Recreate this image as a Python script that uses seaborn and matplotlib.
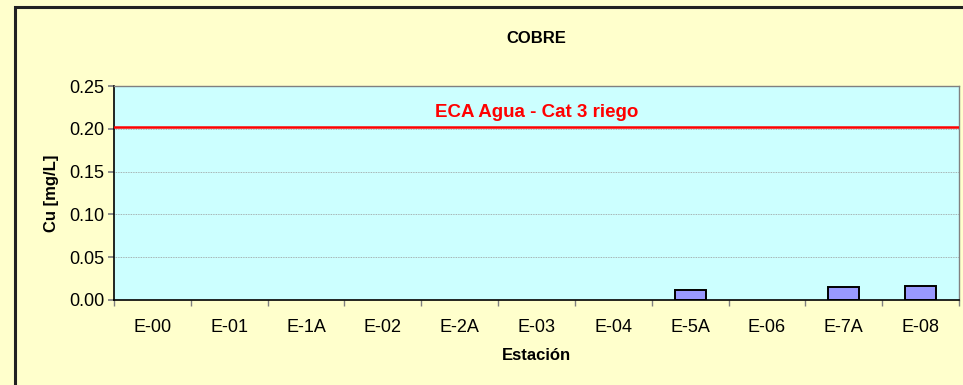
import matplotlib
matplotlib.use("Agg")
import matplotlib.pyplot as plt
import seaborn as sns
import pandas as pd
import numpy as np
from matplotlib.patches import Rectangle

estaciones = ["E-00", "E-01", "E-1A", "E-02", "E-2A", "E-03", "E-04", "E-5A", "E-06", "E-7A", "E-08"]
cobre = [0, 0, 0, 0, 0, 0, 0, 0.012, 0, 0.015, 0.016]
eca_limite = 0.202
eca_texto = "ECA Agua - Cat 3 riego"
yticks = [0.00, 0.05, 0.10, 0.15, 0.20, 0.25]

sns.set_theme(style="white")
plt.rcParams['font.family'] = ['Liberation Sans', 'DejaVu Sans']
plt.rcParams['text.color'] = 'black'
plt.rcParams['axes.labelcolor'] = 'black'
plt.rcParams['xtick.labelcolor'] = 'black'
plt.rcParams['ytick.labelcolor'] = 'black'

df = pd.DataFrame({"Estación": estaciones, "Cu": cobre})

fig = plt.figure(figsize=(9.63, 3.85), dpi=100)
fig.patch.set_facecolor("#FFFFCC")
ax = fig.add_axes([114/963, 85/385, (959-114)/963, (300-86)/385])
ax.set_facecolor("#CCFFFF")

sns.barplot(data=df, x="Estación", y="Cu", ax=ax, color="#9999FF",
            edgecolor="black", linewidth=1.4, width=0.4, saturation=1)
for p in ax.patches:
    if p.get_height() == 0:
        p.set_visible(False)

ax.set_ylim(0, 0.25)
ax.set_xlim(-0.5, len(estaciones) - 0.5)
ax.set_yticks(yticks)
ax.set_yticklabels([f"{v:.2f}" for v in yticks], fontsize=13)
ax.tick_params(axis="y", length=4, color="gray", labelcolor="black", direction="out", pad=3, left=True)
ax.tick_params(axis="x", length=0, pad=14, labelsize=13, labelcolor="black")
ax.set_xticks(np.arange(-0.5, len(estaciones)), minor=True)
ax.tick_params(axis="x", which="minor", length=4, color="gray", bottom=True, direction="out")

for v in yticks[1:]:
    ax.axhline(v, color="#999999", linestyle=(0, (1, 1)), linewidth=0.6, zorder=0.5)

ax.axhline(eca_limite, color="red", linewidth=1.8, zorder=3)
ax.text((len(estaciones) - 1) / 2, 0.2185, eca_texto, color="red", fontsize=13.5,
        fontweight="bold", ha="center", va="center")

for s in ["left", "bottom"]:
    ax.spines[s].set_color("black")
    ax.spines[s].set_linewidth(1.2)
for s in ["top", "right"]:
    ax.spines[s].set_color("gray")
    ax.spines[s].set_linewidth(1.0)

ax.set_xlabel("Estación", fontsize=12, fontweight="bold", labelpad=8, color="black")
ax.set_ylabel("Cu [mg/L]", fontsize=12, fontweight="bold", color="black")
ax.yaxis.set_label_coords(-0.065, 0.5)
ax.set_title("COBRE", fontsize=12, fontweight="bold", pad=31, color="black")

fig.patches.append(Rectangle((15/963, -0.05), 1.0, 1 - 7/385 + 0.05, transform=fig.transFigure,
                             fill=False, edgecolor="#222222", linewidth=2.2, zorder=10))

fig.savefig("out.png", dpi=100, facecolor=fig.get_facecolor())
